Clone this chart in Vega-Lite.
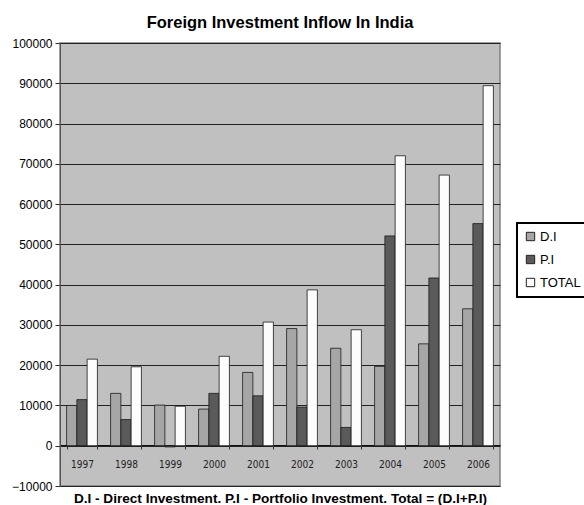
{
  "$schema": "https://vega.github.io/schema/vega-lite/v6.json",
  "width": 440,
  "height": 443,
  "autosize": {"type": "none"},
  "padding": {"left": 60, "top": 43, "right": 84, "bottom": 19},
  "background": "white",
  "title": {
    "text": "Foreign Investment Inflow In India",
    "font": "Liberation Sans",
    "fontSize": 16.5,
    "fontWeight": "bold",
    "color": "black",
    "anchor": "middle",
    "offset": 6
  },
  "data": {
    "values": [
      {"year": "1997", "series": "D.I", "value": 10000},
      {"year": "1997", "series": "P.I", "value": 11450},
      {"year": "1997", "series": "TOTAL", "value": 21500},
      {"year": "1998", "series": "D.I", "value": 13000},
      {"year": "1998", "series": "P.I", "value": 6500},
      {"year": "1998", "series": "TOTAL", "value": 19600},
      {"year": "1999", "series": "D.I", "value": 10100},
      {"year": "1999", "series": "P.I", "value": -300},
      {"year": "1999", "series": "TOTAL", "value": 9800},
      {"year": "2000", "series": "D.I", "value": 9100},
      {"year": "2000", "series": "P.I", "value": 13000},
      {"year": "2000", "series": "TOTAL", "value": 22200},
      {"year": "2001", "series": "D.I", "value": 18200},
      {"year": "2001", "series": "P.I", "value": 12400},
      {"year": "2001", "series": "TOTAL", "value": 30700},
      {"year": "2002", "series": "D.I", "value": 29100},
      {"year": "2002", "series": "P.I", "value": 9600},
      {"year": "2002", "series": "TOTAL", "value": 38700},
      {"year": "2003", "series": "D.I", "value": 24200},
      {"year": "2003", "series": "P.I", "value": 4550},
      {"year": "2003", "series": "TOTAL", "value": 28800},
      {"year": "2004", "series": "D.I", "value": 19700},
      {"year": "2004", "series": "P.I", "value": 52100},
      {"year": "2004", "series": "TOTAL", "value": 72000},
      {"year": "2005", "series": "D.I", "value": 25300},
      {"year": "2005", "series": "P.I", "value": 41650},
      {"year": "2005", "series": "TOTAL", "value": 67200},
      {"year": "2006", "series": "D.I", "value": 34000},
      {"year": "2006", "series": "P.I", "value": 55150},
      {"year": "2006", "series": "TOTAL", "value": 89400}
    ]
  },
  "mark": {"type": "bar", "stroke": "#1a1a1a", "strokeWidth": 0.8},
  "encoding": {
    "x": {
      "field": "year",
      "type": "nominal",
      "scale": {"paddingInner": 0.3, "paddingOuter": 0.15},
      "axis": {
        "offset": -41,
        "tickBand": "extent",
        "labelAngle": 0,
        "labelFont": "DejaVu Sans Condensed, Liberation Sans, sans-serif",
        "labelFontSize": 10,
        "labelColor": "#222",
        "labelPadding": 10,
        "tickSize": 4,
        "tickColor": "#333",
        "domainColor": "#111",
        "grid": false,
        "title": "D.I - Direct Investment. P.I - Portfolio Investment. Total = (D.I+P.I)",
        "titleFont": "Liberation Sans",
        "titleFontSize": 13.6,
        "titleFontWeight": "bold",
        "titleColor": "black",
        "titleBaseline": "middle",
        "titleY": 53
      }
    },
    "xOffset": {"field": "series", "type": "nominal", "sort": ["D.I", "P.I", "TOTAL"]},
    "y": {
      "field": "value",
      "type": "quantitative",
      "scale": {"domain": [-10000, 100000], "nice": false, "zero": false},
      "axis": {
        "values": [-10000, 0, 10000, 20000, 30000, 40000, 50000, 60000, 70000, 80000, 90000, 100000],
        "title": null,
        "format": "d",
        "labelFont": "Liberation Sans",
        "labelFontSize": 12,
        "labelColor": "black",
        "labelPadding": 3,
        "tickSize": 5,
        "tickColor": "#333",
        "domainColor": "#555",
        "gridColor": "#222",
        "gridWidth": 1
      }
    },
    "color": {
      "field": "series",
      "type": "nominal",
      "sort": ["D.I", "P.I", "TOTAL"],
      "scale": {"domain": ["D.I", "P.I", "TOTAL"], "range": ["#a6a6a6", "#5a5a5a", "#fcfcfc"]},
      "legend": {
        "title": null,
        "orient": "none",
        "legendX": 457,
        "legendY": 180,
        "symbolType": "square",
        "symbolSize": 70,
        "symbolStrokeColor": "#222",
        "symbolStrokeWidth": 1,
        "labelFont": "Liberation Sans",
        "labelFontSize": 13,
        "labelColor": "black",
        "labelOffset": 3,
        "rowPadding": 9,
        "padding": 7,
        "strokeColor": "black",
        "fillColor": "white"
      }
    }
  },
  "config": {
    "view": {"fill": "#c0c0c0", "stroke": "#808080", "strokeWidth": 1.5},
    "legend": {"strokeWidth": 2}
  }
}
